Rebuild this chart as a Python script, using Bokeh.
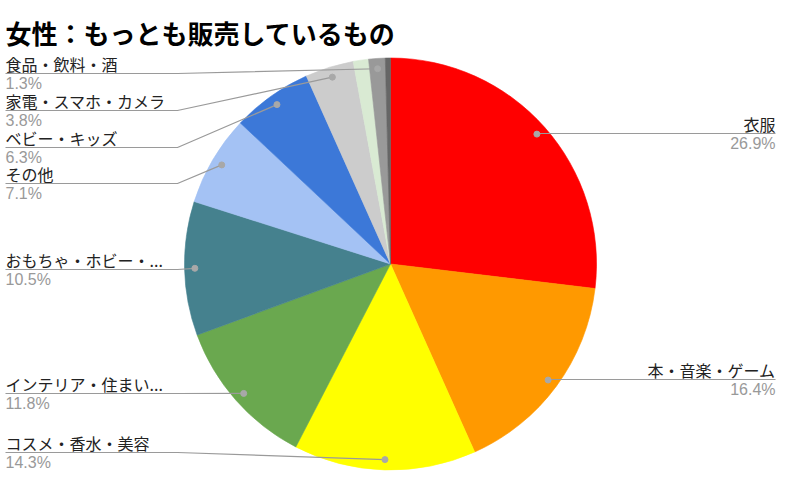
import math
from bokeh.plotting import figure
from bokeh.models import Range1d, ColumnDataSource
from bokeh.core.properties import value
from bokeh.embed import file_html
from bokeh.resources import INLINE

# ---------------- data ----------------
title = "女性：もっとも販売しているもの"
categories = ["衣服", "本・音楽・ゲーム", "コスメ・香水・美容", "インテリア・住まい...",
              "おもちゃ・ホビー・...", "その他", "ベビー・キッズ", "家電・スマホ・カメラ",
              "その他（小）", "食品・飲料・酒", "その他（極小）"]
shares = [26.9, 16.4, 14.3, 11.8, 10.5, 7.1, 6.3, 3.8, 1.2, 1.3, 0.4]
show_label = [True, True, True, True, True, True, True, True, False, True, False]

# ---------------- style / layout ----------------
colors = ["#ff0000", "#ff9900", "#ffff00", "#6aa84f", "#45818e", "#a4c2f4",
          "#3c78d8", "#cccccc", "#d9ead3", "#999999", "#666666"]
label_line_y = [133, 379, 452, 393, 269, 183, 147, 110, None, 73, None]  # page px

W, H = 792, 487
CX, CY, R = 390.0, 263.5, 206.0   # page px
DOT_R = 0.95
LEFT_X, LEFT_ELBOW, RIGHT_X = 5, 177, 775
JP = value("Noto Sans CJK JP")
LAT = value("Liberation Sans")


def Y(yp):
    return H - yp


p = figure(width=W, height=H, x_range=Range1d(0, W), y_range=Range1d(0, H),
           output_backend="svg", toolbar_location=None, min_border=0,
           x_axis_type=None, y_axis_type=None)
p.grid.visible = False
p.outline_line_color = None
p.background_fill_color = "white"
p.border_fill_color = "white"

total = sum(shares)
starts, ends, mids = [], [], []
cum = 0.0
for s in shares:
    a0 = 2 * math.pi * cum / total
    a1 = 2 * math.pi * (cum + s) / total
    starts.append(math.pi / 2 - a0)
    ends.append(math.pi / 2 - a1)
    mids.append((a0 + a1) / 2)
    cum += s

src = ColumnDataSource(dict(start=starts, end=ends, color=colors, cat=categories))
p.wedge(x=CX, y=Y(CY), radius=R, start_angle="start", end_angle="end",
        direction="clock", fill_color="color", line_color="color", line_width=0.6,
        source=src)

xs, ys, dx, dy = [], [], [], []
lx, ly, ltxt, lalign = [], [], [], []
px, py, ptxt, palign = [], [], [], []
for i, (cat, s) in enumerate(zip(categories, shares)):
    if not show_label[i]:
        continue
    th = mids[i]
    dxp = CX + DOT_R * R * math.sin(th)
    dyp = CY - DOT_R * R * math.cos(th)
    dx.append(dxp)
    dy.append(Y(dyp))
    lyp = label_line_y[i]
    frac = (sum(shares[:i]) + s / 2) / total
    if frac < 0.5:
        xs.append([dxp, RIGHT_X])
        ys.append([Y(lyp), Y(lyp)])
        lx.append(RIGHT_X); px.append(RIGHT_X)
        lalign.append("right"); palign.append("right")
    else:
        xs.append([LEFT_X, LEFT_ELBOW, dxp])
        ys.append([Y(lyp), Y(lyp), Y(dyp)])
        lx.append(LEFT_X); px.append(LEFT_X)
        lalign.append("left"); palign.append("left")
    ly.append(Y(lyp - 10))
    py.append(Y(lyp + 10))
    ltxt.append(cat)
    ptxt.append(f"{s:.1f}%")

p.multi_line(xs=xs, ys=ys, line_color="#9a9a9a", line_width=1.2)
p.scatter(x=dx, y=dy, size=6, marker="circle", fill_color="#a8a8a8", line_color="#a8a8a8")

p.text(x=lx, y=ly, text=ltxt, text_align=lalign, text_baseline="middle",
       text_font=JP, text_font_size="16px", text_color="#222222")
p.text(x=px, y=py, text=ptxt, text_align=palign, text_baseline="middle",
       text_font=LAT, text_font_size="16px", text_color="#999999")

p.text(x=[5], y=[Y(32)], text=[title], text_align="left", text_baseline="middle",
       text_font=JP, text_font_style="bold", text_font_size="26px", text_color="#000000")

open("out.html", "w").write(file_html(p, INLINE))
